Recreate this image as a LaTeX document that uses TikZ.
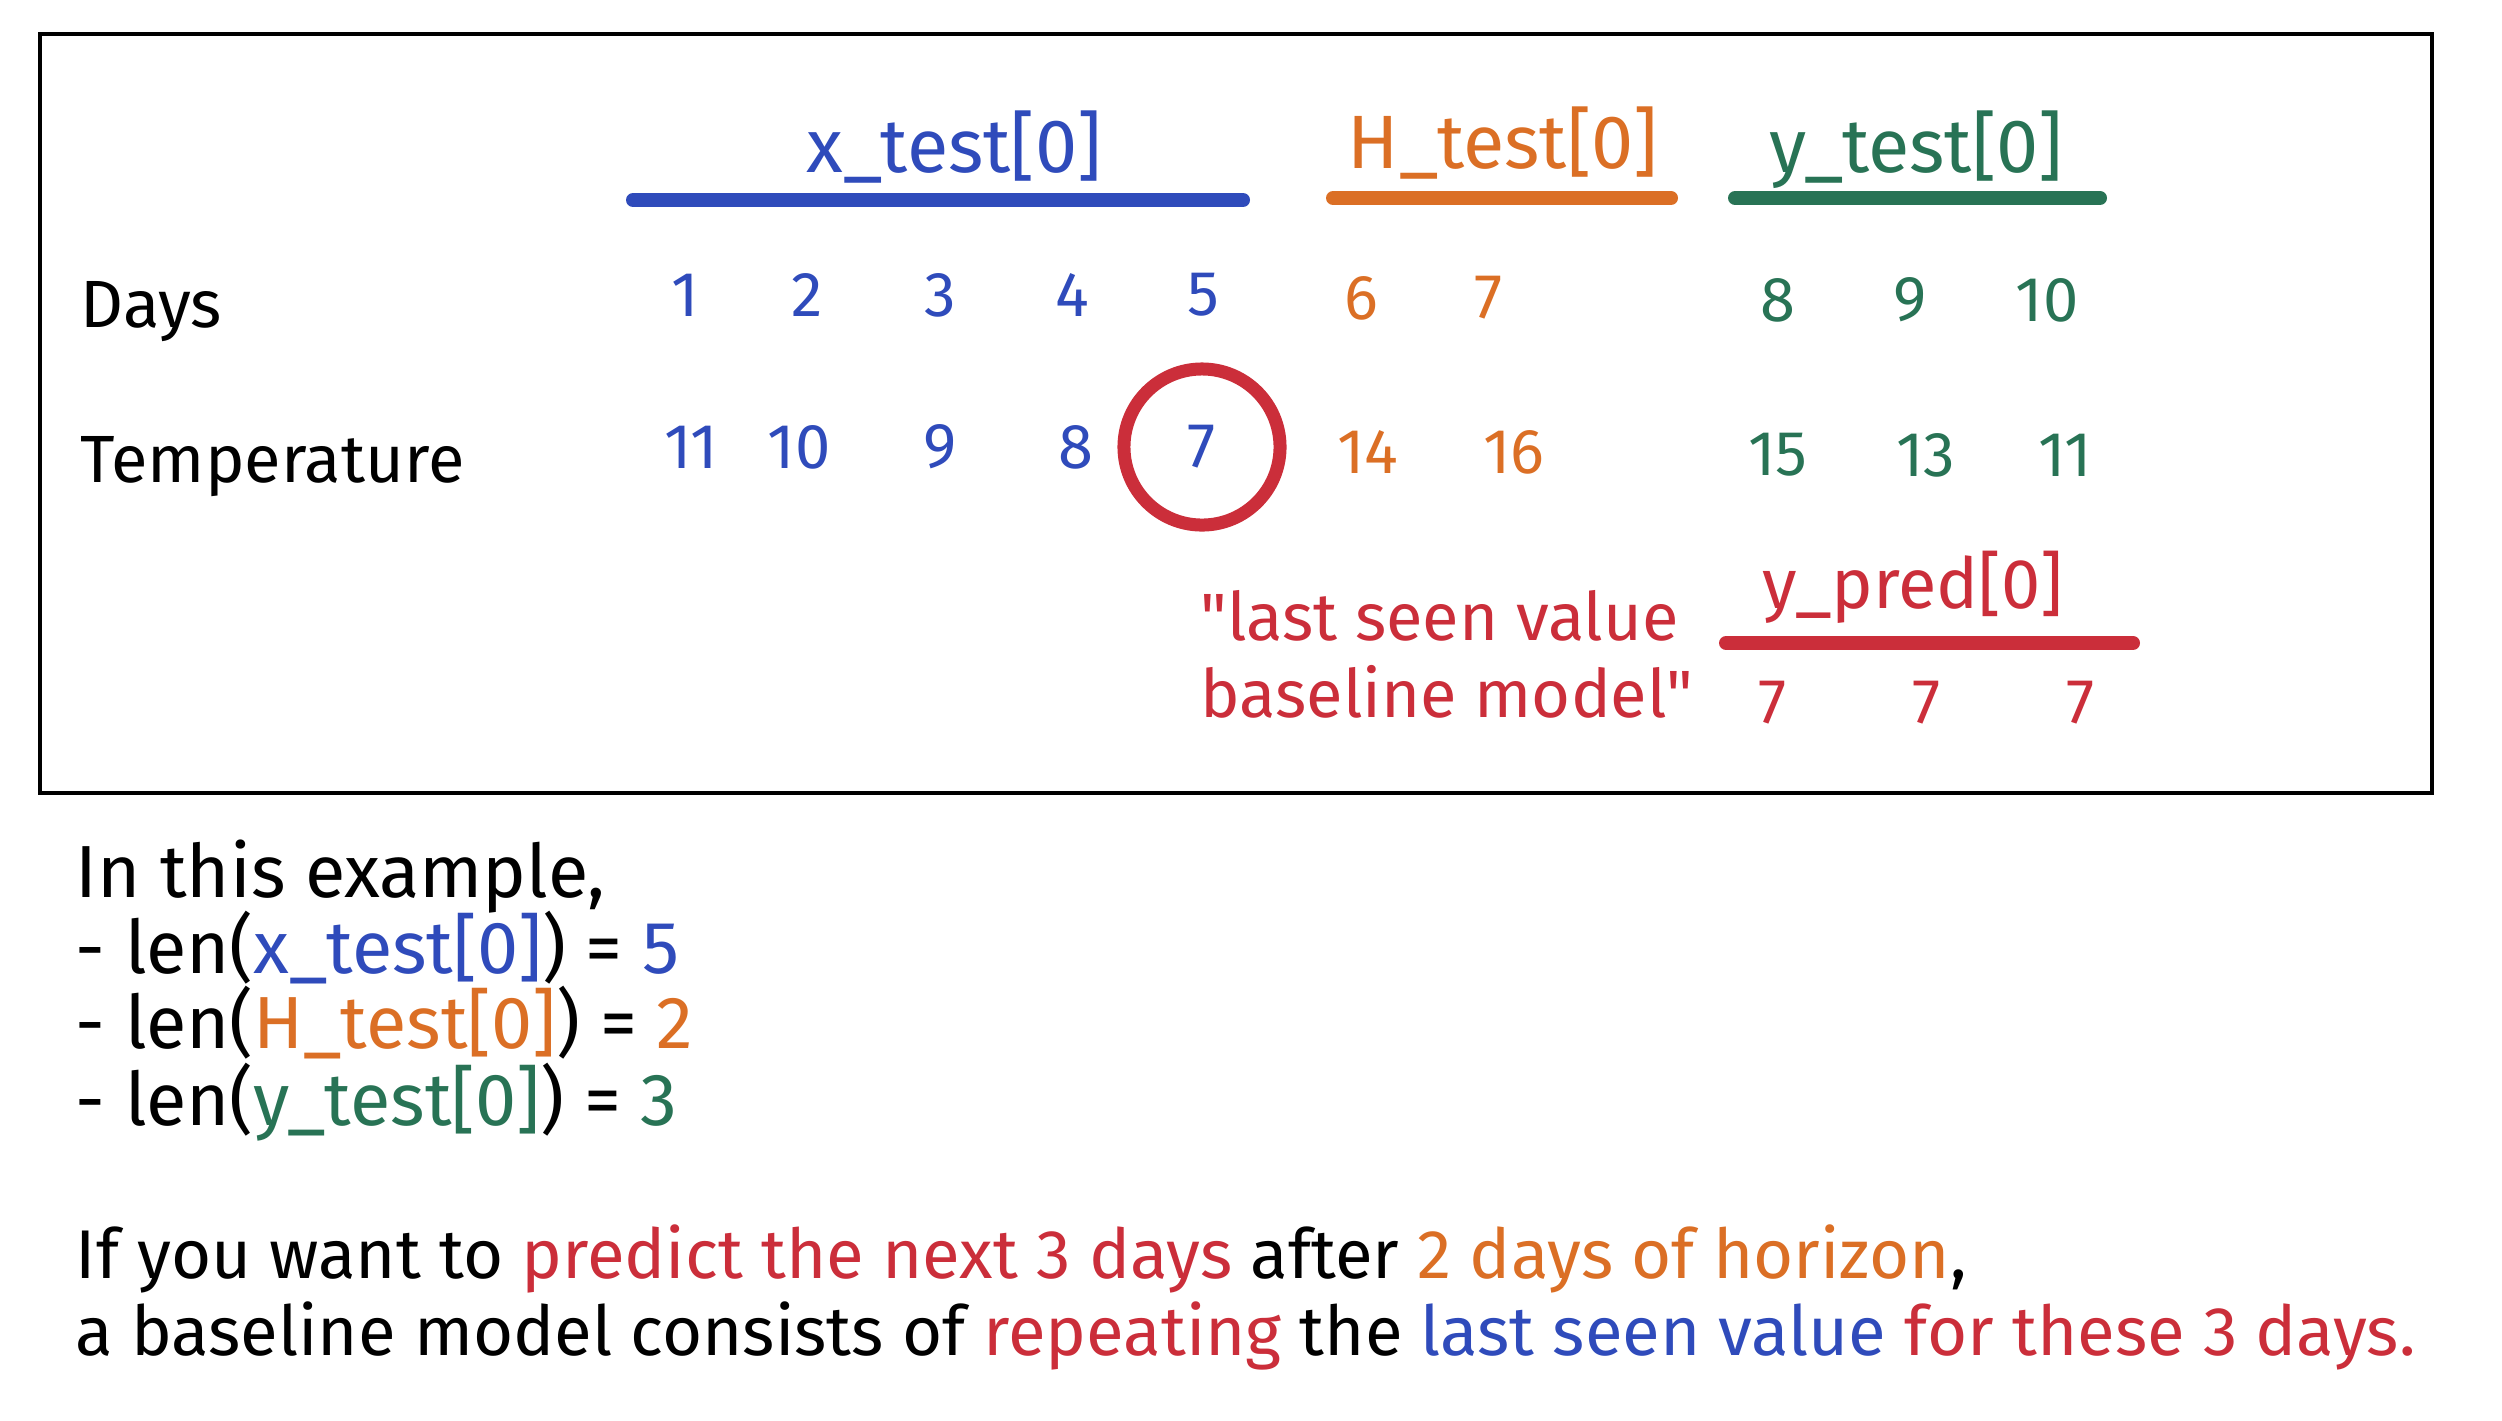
\documentclass[tikz,border=0pt]{standalone}
\usepackage{fontspec}
\setmainfont{Fira Sans}
\newfontfamily\plainquote{Fira Sans}
\usepackage{xcolor}
\usetikzlibrary{positioning,calc}

\definecolor{xblue}{HTML}{2F4BBB}
\definecolor{horange}{HTML}{DB6F25}
\definecolor{ygreen}{HTML}{287355}
\definecolor{predred}{HTML}{CB2E3A}

\newcommand{\handsize}{\fontsize{19}{22}\selectfont}
\newcommand{\dq}{{\plainquote"}}

\begin{document}
\begin{tikzpicture}[
  x=0.01cm, y=-0.01cm,
  every node/.style={font=\handsize, inner sep=0pt},
  rowlabel/.style={anchor=base west},
  header/.style={anchor=base, font=\fontsize{21.5}{24}\selectfont},
  val/.style={anchor=center, font=\fontsize{18}{22}\selectfont},
  bar/.style={line width=0.14cm, line cap=round},
  textline/.style={anchor=base west},
  note/.style={anchor=base west, font=\fontsize{21}{24}\selectfont},
  summary/.style={anchor=base west, font=\fontsize{19.6}{24}\selectfont}
]
  \useasboundingbox (0,0) rectangle (2502,1420);
  \draw[line width=1pt] (40,34) rectangle (2432,793);

  % headers and their bars
  \node[header, xblue] (xhead) at (954,172) {x\_test[0]};
  \node[header, horange] (hhead) at (1503,168) {H\_test[0]};
  \node[header, ygreen] (yhead) at (1916,172) {y\_test[0]};
  \coordinate (xbarL) at (633,200);  \coordinate (xbarR) at (1243,200);
  \coordinate (hbarL) at (1333,198); \coordinate (hbarR) at (1671,198);
  \coordinate (ybarL) at (1735,198); \coordinate (ybarR) at (2100,198);
  \draw[bar, xblue] (xbarL) -- (xbarR);
  \draw[bar, horange] (hbarL) -- (hbarR);
  \draw[bar, ygreen] (ybarL) -- (ybarR);

  % rows
  \node[rowlabel] (days) at (80,327) {Days};
  \node[rowlabel] (temp) at (80,482) {Temperature};

  \foreach \v/\x [count=\i] in {1/685,2/807,3/940,4/1072,5/1203}
    \node[val, xblue] (day\i) at (\x,295) {\v};
  \foreach \v/\x [count=\i from 6] in {6/1361,7/1489}
    \node[val, horange] (day\i) at (\x,298) {\v};
  \foreach \v/\x [count=\i from 8] in {8/1778,9/1910,10/2047}
    \node[val, ygreen] (day\i) at (\x,300) {\v};

  \foreach \v/\x [count=\i] in {11/691,10/799,9/940,8/1076,7/1202}
    \node[val, xblue] (temp\i) at (\x,447) {\v};
  \foreach \v/\x [count=\i from 6] in {14/1368,16/1514}
    \node[val, horange] (temp\i) at (\x,452) {\v};
  \foreach \v/\x [count=\i from 8] in {15/1778,13/1926,11/2065}
    \node[val, ygreen] (temp\i) at (\x,455) {\v};

  % last seen value
  \draw[predred, line width=0.13cm] (temp5.center) circle (0.78cm);

  % prediction
  \node[textline, predred] (quote1) at (1200,640) {\dq last seen value};
  \node[textline, predred] (quote2) at (1200,717) {baseline model\dq};
  \node[header, predred, font=\fontsize{20}{24}\selectfont] (predhead) at (1913,608) {y\_pred[0]};
  \coordinate (pbarL) at (1726,643); \coordinate (pbarR) at (2133,643);
  \draw[bar, predred] (pbarL) -- (pbarR);
  \foreach \x [count=\i] in {1773,1927,2081}
    \node[val, predred] (pred\i) at (\x,703) {7};

  % explanation
  \node[note] (ex0) at (75,897) {In this example,};
  \node[note] (ex1) at (75,973) {- len(\textcolor{xblue}{x\_test[0]}) = \textcolor{xblue}{5}};
  \node[note] (ex2) at (75,1048) {- len(\textcolor{horange}{H\_test[0]}) = \textcolor{horange}{2}};
  \node[note] (ex3) at (75,1125) {- len(\textcolor{ygreen}{y\_test[0]}) = \textcolor{ygreen}{3}};

  \node[summary] (sum1) at (75,1278) {If you want to \textcolor{predred}{predict the next 3 days} after \textcolor{horange}{2 days of horizon},};
  \node[summary] (sum2) at (75,1355) {a baseline model consists of \textcolor{predred}{repeating} the \textcolor{xblue}{last seen value} \textcolor{predred}{for these 3 days.}};
\end{tikzpicture}
\end{document}
